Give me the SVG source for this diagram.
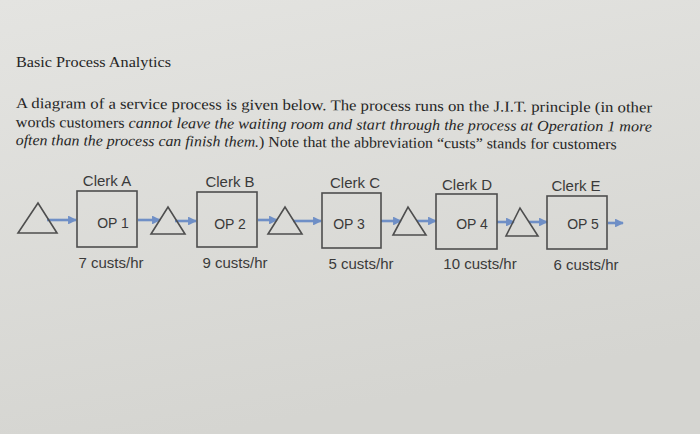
<svg xmlns="http://www.w3.org/2000/svg" width="700" height="434" viewBox="0 0 700 434">
<defs>
<linearGradient id="bg" x1="0" y1="0" x2="0.3" y2="1">
<stop offset="0" stop-color="#e4e4e1"/>
<stop offset="1" stop-color="#d5d5d1"/>
</linearGradient>
<marker id="ah" viewBox="0 0 10 10" refX="9" refY="5" markerWidth="3.4" markerHeight="3.4" orient="auto" markerUnits="strokeWidth">
<path d="M0,0 L10,5 L0,10 z" fill="#6f8fc6"/>
</marker>
<style>
.serif{font-family:"Liberation Serif","Times New Roman",serif;font-size:15px;fill:#262626}
.head{font-size:15px}
.it{font-style:italic}
.lbl{font-family:"Liberation Sans",Arial,sans-serif;font-size:15px;fill:#3a3a3a;text-anchor:middle}
.op{font-family:"Liberation Sans",Arial,sans-serif;font-size:14px;fill:#3a3a3a;text-anchor:middle}
.box{fill:none;stroke:#4e4e4e;stroke-width:1.6}
.tri{fill:none;stroke:#4e4e4e;stroke-width:1.6;stroke-linejoin:miter}
.arr{stroke:#6f8fc6;stroke-width:2.6;fill:none;marker-end:url(#ah)}
</style>
</defs>
<rect width="700" height="434" fill="url(#bg)"/>
<g id="heading">
<text class="serif head" x="16" y="67" textLength="155" lengthAdjust="spacingAndGlyphs">Basic Process Analytics</text>
<g transform="rotate(0.4 16 108)">
<text class="serif" x="16" y="108" textLength="636" lengthAdjust="spacingAndGlyphs">A diagram of a service process is given below.  The process runs on the J.I.T. principle (in other</text>
<text class="serif" x="16" y="127" textLength="636" lengthAdjust="spacingAndGlyphs">words customers <tspan class="it">cannot leave the waiting room and start through the process at Operation 1 more</tspan></text>
<text class="serif" x="16" y="145" textLength="601" lengthAdjust="spacingAndGlyphs"><tspan class="it">often than the process can finish them.</tspan>) Note that the abbreviation “custs” stands for customers</text>
</g>
</g>
<g id="connectors">
<line class="arr" x1="47" y1="220" x2="76" y2="220"/>
<line class="arr" x1="138" y1="220" x2="160" y2="220"/>
<line class="arr" x1="175" y1="221" x2="196" y2="221"/>
<line class="arr" x1="258" y1="220" x2="277" y2="220"/>
<line class="arr" x1="293" y1="221" x2="321" y2="221"/>
<line class="arr" x1="381" y1="221" x2="401" y2="221"/>
<line class="arr" x1="417" y1="221" x2="436" y2="221"/>
<line class="arr" x1="497" y1="222" x2="514" y2="222"/>
<line class="arr" x1="529" y1="222" x2="547" y2="222"/>
<line class="arr" x1="608" y1="223" x2="623" y2="223"/>
</g>
<g id="wait1"><polygon class="tri" points="18,233 57,233 38,203"/></g>
<g id="op1">
<rect class="box" x="77" y="191" width="60" height="56"/>
<text class="lbl" x="107" y="186">Clerk A</text>
<text class="op" x="113" y="228">OP 1</text>
<text class="lbl" x="111" y="268">7 custs/hr</text>
</g>
<g id="wait2"><polygon class="tri" points="151,234 185,234 168,207"/></g>
<g id="op2">
<rect class="box" x="197" y="192" width="60" height="55"/>
<text class="lbl" x="230" y="187">Clerk B</text>
<text class="op" x="230" y="229">OP 2</text>
<text class="lbl" x="235" y="268">9 custs/hr</text>
</g>
<g id="wait3"><polygon class="tri" points="268,234 302,234 285,207"/></g>
<g id="op3">
<rect class="box" x="322" y="193" width="59" height="55"/>
<text class="lbl" x="355" y="188">Clerk C</text>
<text class="op" x="349" y="229">OP 3</text>
<text class="lbl" x="361" y="269">5 custs/hr</text>
</g>
<g id="wait4"><polygon class="tri" points="393,235 426,235 408,207"/></g>
<g id="op4">
<rect class="box" x="436" y="194" width="61" height="55"/>
<text class="lbl" x="467" y="190">Clerk D</text>
<text class="op" x="472" y="229">OP 4</text>
<text class="lbl" x="480" y="269">10 custs/hr</text>
</g>
<g id="wait5"><polygon class="tri" points="506,236 538,236 520,208"/></g>
<g id="op5">
<rect class="box" x="547" y="196" width="60" height="53"/>
<text class="lbl" x="576" y="191">Clerk E</text>
<text class="op" x="583" y="229">OP 5</text>
<text class="lbl" x="586" y="270">6 custs/hr</text>
</g>
</svg>
